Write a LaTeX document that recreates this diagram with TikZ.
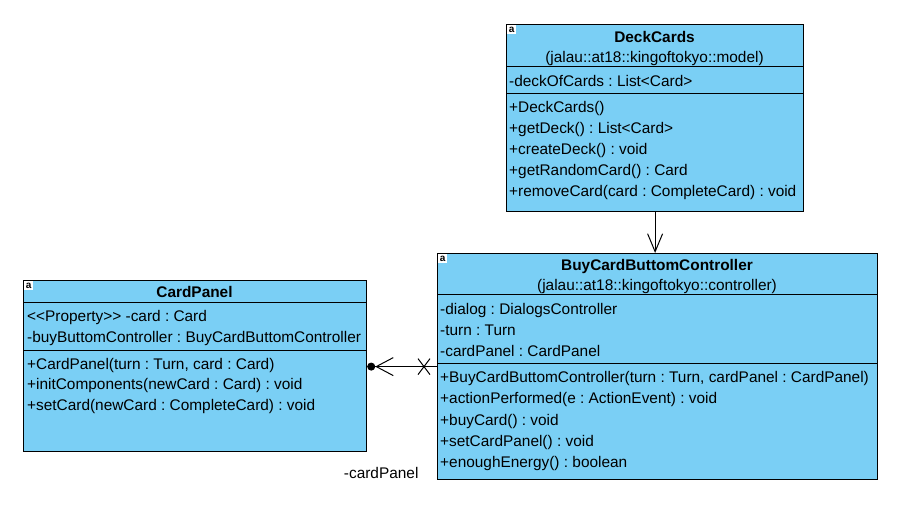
\documentclass[tikz,border=0pt]{standalone}
\usepackage{fontspec}
\setmainfont{Liberation Sans}
\usetikzlibrary{arrows.meta,calc}
\frenchspacing
\definecolor{classfill}{RGB}{122,207,245}
\tikzset{
  classbox/.style={draw=black, fill=classfill, line width=1.2pt, anchor=north west, inner sep=0pt},
  member/.style={anchor=base west, inner sep=0pt, font=\fontsize{15.4}{17}\selectfont},
  classname/.style={anchor=base, inner sep=0pt, font=\fontsize{15.4}{17}\selectfont\bfseries},
  pkgname/.style={anchor=base, inner sep=0pt, font=\fontsize{15.4}{17}\selectfont},
  sepline/.style={line width=1pt},
  classicon/.style={fill=white, anchor=north west, minimum width=9, minimum height=9, inner sep=0pt, font=\fontsize{10}{10}\selectfont\bfseries},
  assoc/.style={line width=1pt}
}
\begin{document}
\begin{tikzpicture}[x=1pt,y=-1pt]
\useasboundingbox (0,0) rectangle (899,511);
\node[classbox, minimum width=297, minimum height=187] (deck) at (506,24) {};
\node[classicon] (deckicon) at (507,25) {a};
\node[classname] (decktitle) at (654.5,42.5) {DeckCards};
\node[pkgname] (deckpkg) at (654.5,63) {(jalau::at18::kingoftokyo::model)};
\draw[sepline] (deck.west |- 0,67) -- (deck.east |- 0,67);
\node[member] (deckattr1) at (509,86) {-deckOfCards : List<Card>};
\draw[sepline] (deck.west |- 0,93) -- (deck.east |- 0,93);
\node[member] (deckop1) at (509,112.5) {+DeckCards()};
\node[member] (deckop2) at (509,133.5) {+getDeck() : List<Card>};
\node[member] (deckop3) at (509,154.5) {+createDeck() : void};
\node[member] (deckop4) at (509,175.5) {+getRandomCard() : Card};
\node[member] (deckop5) at (509,196.5) {+removeCard(card : CompleteCard) : void};

\node[classbox, minimum width=440, minimum height=226] (buy) at (437,253) {};
\node[classicon] (buyicon) at (438,254) {a};
\node[classname] (buytitle) at (657,270.5) {BuyCardButtomController};
\node[pkgname] (buypkg) at (657,290.5) {(jalau::at18::kingoftokyo::controller)};
\draw[sepline] (buy.west |- 0,294) -- (buy.east |- 0,294);
\node[member] (buyattr1) at (440,314.5) {-dialog : DialogsController};
\node[member] (buyattr2) at (440,335.5) {-turn : Turn};
\node[member] (buyattr3) at (440,356.5) {-cardPanel : CardPanel};
\draw[sepline] (buy.west |- 0,363) -- (buy.east |- 0,363);
\node[member] (buyop1) at (440,382.5) {+BuyCardButtomController(turn : Turn, cardPanel : CardPanel)};
\node[member] (buyop2) at (440,403.5) {+actionPerformed(e : ActionEvent) : void};
\node[member] (buyop3) at (440,425) {+buyCard() : void};
\node[member] (buyop4) at (440,446) {+setCardPanel() : void};
\node[member] (buyop5) at (440,467) {+enoughEnergy() : boolean};

\node[classbox, minimum width=343, minimum height=171] (card) at (23,280) {};
\node[classicon] (cardicon) at (24,281) {a};
\node[classname] (cardtitle) at (194.5,297.5) {CardPanel};
\draw[sepline] (card.west |- 0,302) -- (card.east |- 0,302);
\node[member] (cardattr1) at (27,321.5) {{<}{<}Property{>}{>} -card : Card};
\node[member] (cardattr2) at (27,342.5) {-buyButtomController : BuyCardButtomController};
\draw[sepline] (card.west |- 0,350) -- (card.east |- 0,350);
\node[member] (cardop1) at (27,369.5) {+CardPanel(turn : Turn, card : Card)};
\node[member] (cardop2) at (27,389.5) {+initComponents(newCard : Card) : void};
\node[member] (cardop3) at (27,410.5) {+setCard(newCard : CompleteCard) : void};

\draw[assoc, -{Straight Barb[length=18pt,width=15pt,line width=1pt]}] (deck.south) -- (deck.south |- buy.north);
\draw[assoc, -{Straight Barb[length=17pt,width=18pt,line width=1pt]Circle[length=8pt]}] (buy.west) -- (buy.west -| card.east);
\draw[assoc] ($(buy.west)+(-19,-8)$) -- ($(buy.west)+(-7,8)$);
\draw[assoc] ($(buy.west)+(-19,8)$) -- ($(buy.west)+(-7,-8)$);
\node[pkgname, anchor=center] (rolelabel) at ($(card.south east)+(14,21)$) {-cardPanel};
\end{tikzpicture}
\end{document}
